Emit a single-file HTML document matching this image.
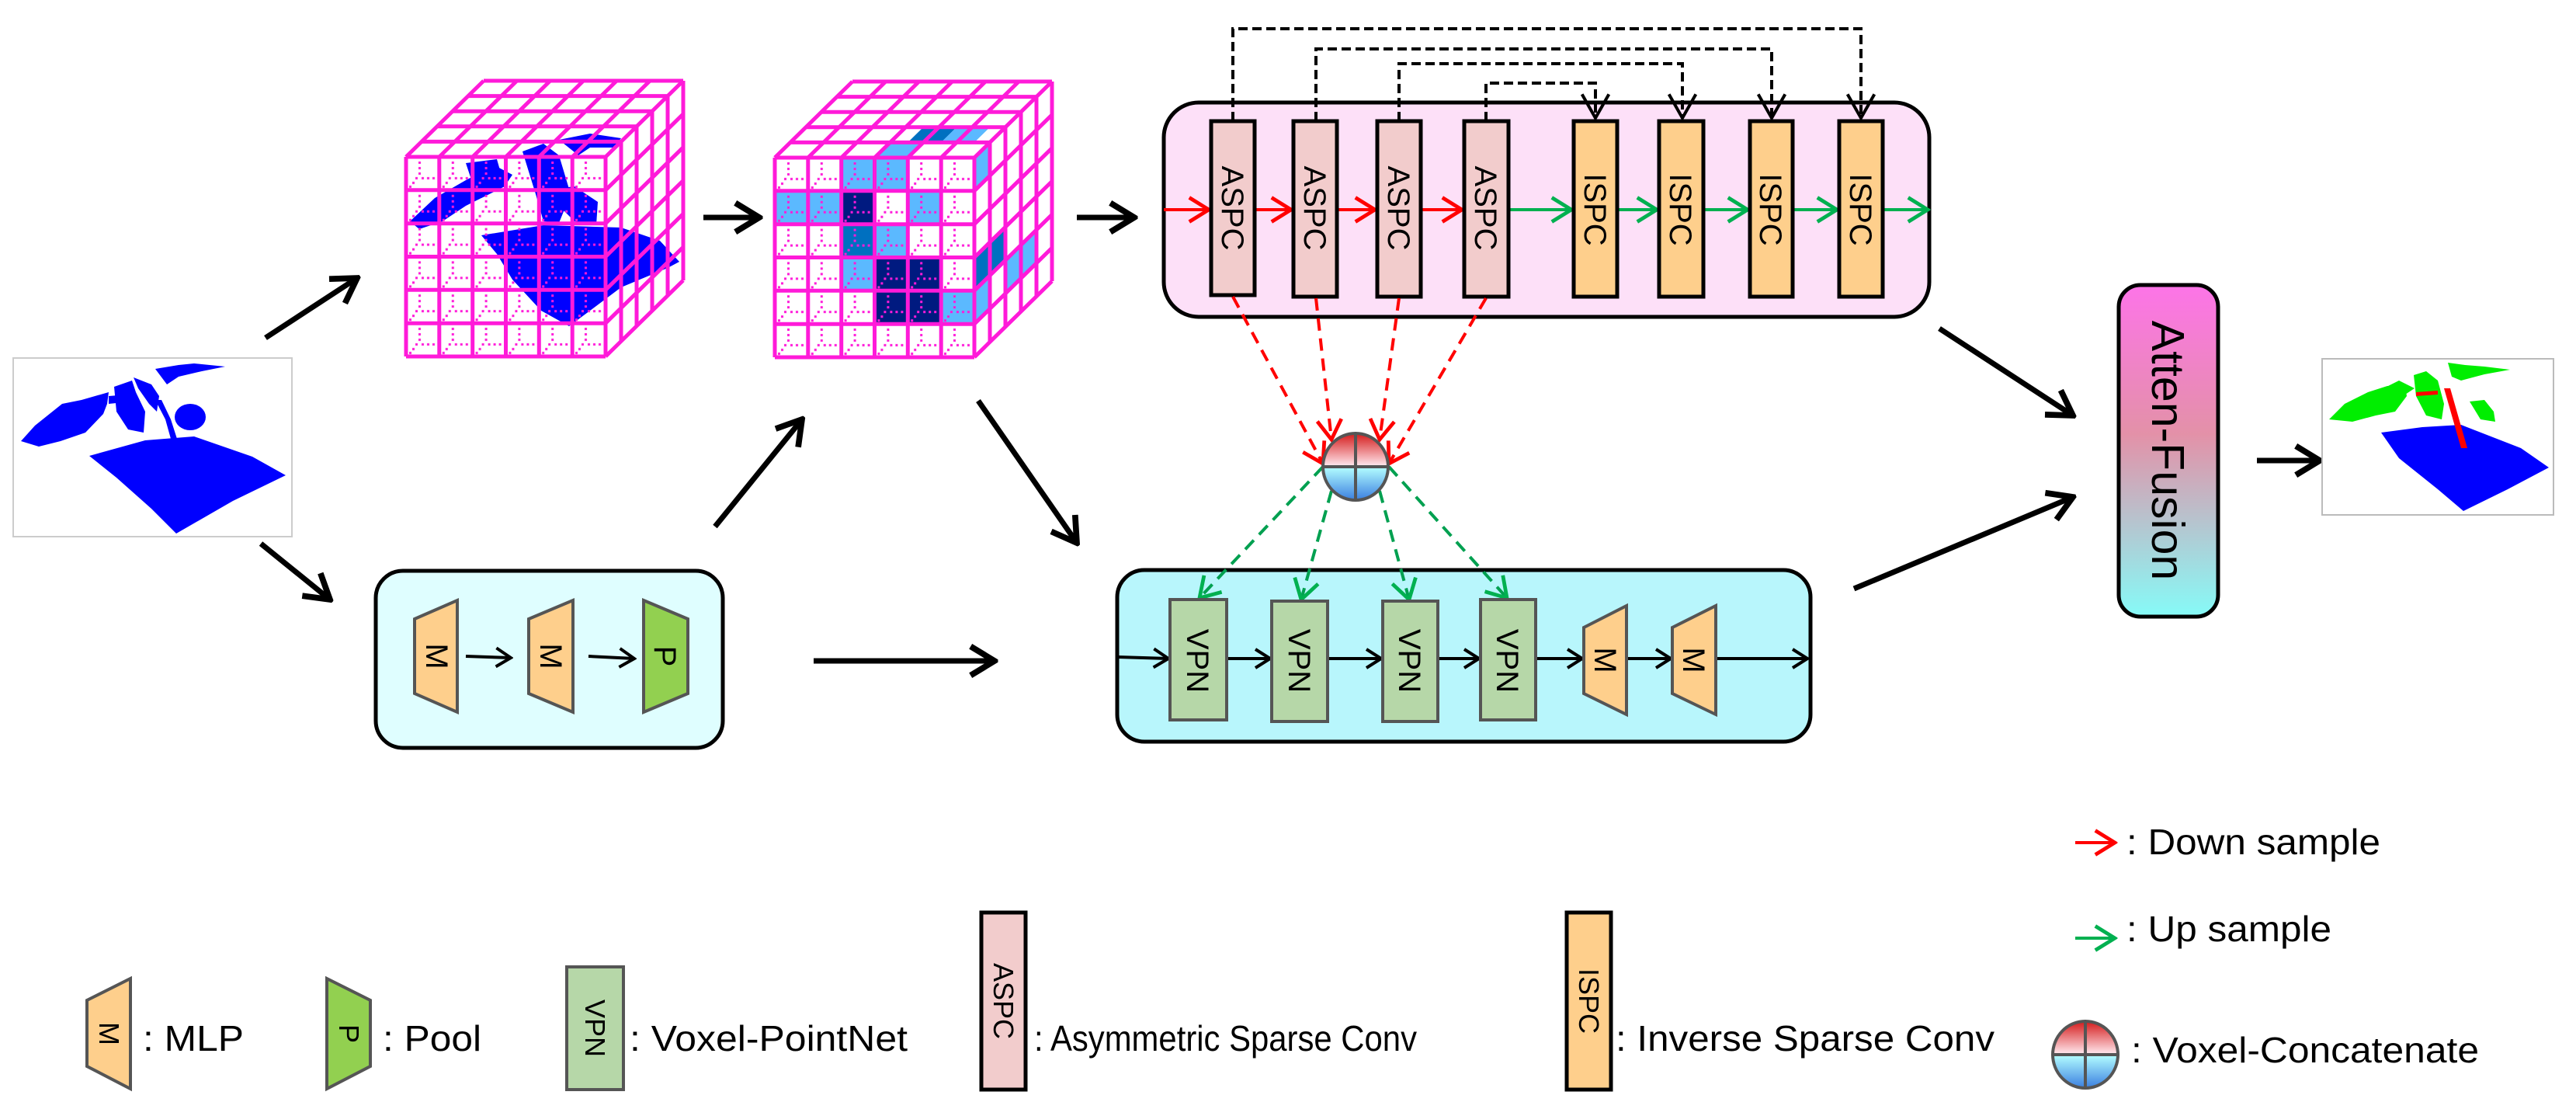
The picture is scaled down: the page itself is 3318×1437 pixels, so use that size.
<!DOCTYPE html>
<html><head><meta charset="utf-8"><style>html,body{margin:0;padding:0;background:#fff}svg{display:block}</style></head><body>
<svg width="3318" height="1437" viewBox="0 0 3318 1437" xmlns="http://www.w3.org/2000/svg" font-family="Liberation Sans, Arial, sans-serif">
<defs>
<marker id="abig" viewBox="0 0 40 40" markerWidth="44" markerHeight="44" refX="36" refY="20" orient="auto" markerUnits="userSpaceOnUse"><path d="M8,3 L36,20 L8,37" fill="none" stroke="#000" stroke-width="7"/></marker>
<marker id="amed" viewBox="0 0 30 30" markerWidth="30" markerHeight="30" refX="27" refY="15" orient="auto" markerUnits="userSpaceOnUse"><path d="M8,3 L27,15 L8,27" fill="none" stroke="#000" stroke-width="4"/></marker>
<marker id="ared" viewBox="0 0 30 30" markerWidth="36" markerHeight="36" refX="27" refY="15" orient="auto" markerUnits="userSpaceOnUse"><path d="M6,2 L27,15 L6,28" fill="none" stroke="#f00" stroke-width="4"/></marker>
<marker id="agrn" viewBox="0 0 30 30" markerWidth="36" markerHeight="36" refX="27" refY="15" orient="auto" markerUnits="userSpaceOnUse"><path d="M6,2 L27,15 L6,28" fill="none" stroke="#00b050" stroke-width="4"/></marker>
<marker id="ablk" viewBox="0 0 30 30" markerWidth="40" markerHeight="40" refX="27" refY="15" orient="auto" markerUnits="userSpaceOnUse"><path d="M4,2 L27,15 L4,28" fill="none" stroke="#000" stroke-width="3"/></marker>
<linearGradient id="sph" x1="0" y1="0" x2="0" y2="1">
<stop offset="0" stop-color="#d41a1a"/><stop offset="0.48" stop-color="#ffe4ea"/><stop offset="0.52" stop-color="#b0faff"/><stop offset="1" stop-color="#3a7fe0"/></linearGradient>
<linearGradient id="att" x1="0" y1="0" x2="0" y2="1">
<stop offset="0" stop-color="#fd74e8"/><stop offset="0.45" stop-color="#e391a8"/><stop offset="1" stop-color="#86fbf8"/></linearGradient>
<pattern id="dots" x="0" y="0" width="42.8" height="42.8" patternUnits="userSpaceOnUse">
<rect x="16" y="6" width="3" height="3" fill="#ff1ad9"/><rect x="16" y="13" width="3" height="3" fill="#ff1ad9"/><rect x="16" y="20" width="3" height="3" fill="#ff1ad9"/><rect x="12" y="26" width="3" height="3" fill="#ff1ad9"/><rect x="20" y="26" width="3" height="3" fill="#ff1ad9"/><rect x="27" y="26" width="3" height="3" fill="#ff1ad9"/><rect x="34" y="26" width="3" height="3" fill="#ff1ad9"/><rect x="8" y="32" width="3" height="3" fill="#ff1ad9"/><rect x="4" y="37" width="3" height="3" fill="#ff1ad9"/>
</pattern>
<g id="cubebg">
<polygon points="0,0 100,-98 357,-98 357,159 257,257 0,257" fill="#fff"/>
</g>
<g id="cubegrid" stroke="#ff1ad9" stroke-width="5" fill="none">
<rect x="0" y="0" width="257" height="257" fill="url(#dots)" stroke="none"/>
<path d="M0,0V257M42.8,0V257M85.7,0V257M128.5,0V257M171.3,0V257M214.2,0V257M257,0V257
M0,0H257M0,42.8H257M0,85.7H257M0,128.5H257M0,171.3H257M0,214.2H257M0,257H257
M20,-19.6H277M40,-39.2H297M60,-58.8H317M80,-78.4H337M100,-98H357
M0,0L100,-98M42.8,0L142.8,-98M85.7,0L185.7,-98M128.5,0L228.5,-98M171.3,0L271.3,-98M214.2,0L314.2,-98M257,0L357,-98
M277,-19.6V237.4M297,-39.2V217.8M317,-58.8V198.2M337,-78.4V178.6M357,-98V159
M257,42.8L357,-55.2M257,85.7L357,-12.3M257,128.5L357,30.5M257,171.3L357,73.3M257,214.2L357,116.2M257,257L357,159"/>
</g>
</defs>

<!-- input point cloud -->
<rect x="17" y="461" width="359" height="230" fill="#fff" stroke="#ccc" stroke-width="2"/>
<g fill="#0000ff">
<polygon points="115,587 187,567 250,562 325,588 368,612 300,645 227,687 195,655 150,615"/>
<polygon points="27,568 45,548 80,520 105,515 140,505 138,520 133,533 110,557 78,568 50,575"/>
<polygon points="147,498 170,490 175,505 187,530 185,557 165,553 150,530"/>
<polygon points="200,475 230,470 250,468 290,472 260,478 230,485 215,495"/>
<polygon points="172,486 195,495 205,510 202,530 192,520 178,500"/>
<ellipse cx="245" cy="537" rx="20" ry="17"/>
<polygon points="208,515 220,540 228,565 220,565 213,540 200,515"/>
<polygon points="140,510 165,508 170,517 140,520"/>
</g>

<!-- cube 1 -->
<g transform="translate(523,202)"><use href="#cubebg"/></g>
<g fill="#0000ff">
<polygon points="528,285 560,255 600,232 637,213 660,225 650,240 620,255 600,265 570,285 540,295"/>
<polygon points="620,303 700,290 800,293 850,310 875,337 860,345 800,370 760,400 733,420 697,400 660,360 640,327"/>
<polygon points="673,195 700,185 720,200 735,250 720,287 700,285 690,250"/>
<polygon points="720,180 760,172 800,178 790,190 760,190 745,200"/>
<polygon points="700,245 740,240 770,260 768,290 740,285"/>
<polygon points="600,210 640,205 650,240 620,255 610,240"/>
</g>
<g transform="translate(523,202)"><use href="#cubegrid"/></g>

<!-- cube 2 -->
<g transform="translate(998,203)">
<use href="#cubebg"/>
<g>
<rect x="85.7" y="0" width="42.8" height="42.8" fill="#5bb9ff"/>
<rect x="128.5" y="0" width="42.8" height="42.8" fill="#5bb9ff"/>
<rect x="0" y="42.8" width="42.8" height="42.8" fill="#5bb9ff"/>
<rect x="42.8" y="42.8" width="42.8" height="42.8" fill="#5bb9ff"/>
<rect x="85.7" y="42.8" width="42.8" height="42.8" fill="#001a80"/>
<rect x="171.3" y="42.8" width="42.8" height="42.8" fill="#5bb9ff"/>
<rect x="85.7" y="85.7" width="42.8" height="42.8" fill="#0070c0"/>
<rect x="128.5" y="85.7" width="42.8" height="42.8" fill="#5bb9ff"/>
<rect x="85.7" y="128.5" width="42.8" height="42.8" fill="#5bb9ff"/>
<rect x="128.5" y="128.5" width="85.6" height="85.7" fill="#001a80"/>
<rect x="214.2" y="171.3" width="42.8" height="42.8" fill="#5bb9ff"/>
<polygon points="257,128.5 277,108.9 277,151.7 257,171.3" fill="#0070c0"/>
<polygon points="277,108.9 297,89.3 297,132.1 277,151.7" fill="#0070c0"/>
<polygon points="257,171.3 277,151.7 277,194.5 257,214.2" fill="#5bb9ff"/>
<polygon points="297,132.1 317,112.5 317,155.3 297,174.9" fill="#5bb9ff"/>
<polygon points="317,112.5 337,92.9 337,135.7 317,155.3" fill="#5bb9ff"/>
<polygon points="257,0 277,-19.6 277,23.2 257,42.8" fill="#5bb9ff"/>
<polygon points="171.3,-19.6 214.2,-19.6 234.2,-39.2 191.3,-39.2" fill="#0070c0"/>
<polygon points="128.5,0 171.3,0 191.3,-19.6 148.5,-19.6" fill="#5bb9ff"/>
<polygon points="214.2,-19.6 257,-19.6 277,-39.2 234.2,-39.2" fill="#5bb9ff"/>
</g>
<use href="#cubegrid"/>
</g>

<!-- pink box -->
<rect x="1499" y="132" width="986" height="276" rx="45" fill="#fde0f8" stroke="#000" stroke-width="5"/>
<g fill="none" stroke="#000" stroke-width="4" stroke-dasharray="12,6">
<path d="M1588,156 V37 H2397 V152" marker-end="url(#ablk)"/>
<path d="M1695,156 V63 H2282 V152" marker-end="url(#ablk)"/>
<path d="M1802,156 V82 H2167 V152" marker-end="url(#ablk)"/>
<path d="M1914,156 V107 H2055 V152" marker-end="url(#ablk)"/>
</g>
<g stroke-width="4" fill="none">
<line x1="1499" y1="270" x2="1557" y2="270" stroke="#f00" marker-end="url(#ared)"/>
<line x1="1616" y1="270" x2="1663" y2="270" stroke="#f00" marker-end="url(#ared)"/>
<line x1="1722" y1="270" x2="1771" y2="270" stroke="#f00" marker-end="url(#ared)"/>
<line x1="1830" y1="270" x2="1883" y2="270" stroke="#f00" marker-end="url(#ared)"/>
<line x1="1943" y1="270" x2="2024" y2="270" stroke="#00b050" marker-end="url(#agrn)"/>
<line x1="2083" y1="270" x2="2134" y2="270" stroke="#00b050" marker-end="url(#agrn)"/>
<line x1="2195" y1="270" x2="2251" y2="270" stroke="#00b050" marker-end="url(#agrn)"/>
<line x1="2309" y1="270" x2="2366" y2="270" stroke="#00b050" marker-end="url(#agrn)"/>
<line x1="2425" y1="270" x2="2483" y2="270" stroke="#00b050" marker-end="url(#agrn)"/>
</g>
<g stroke="#000" stroke-width="5">
<rect x="1560" y="156" width="56" height="224" fill="#f2cccc"/>
<rect x="1666" y="156" width="56" height="226" fill="#f2cccc"/>
<rect x="1774" y="156" width="56" height="226" fill="#f2cccc"/>
<rect x="1886" y="156" width="57" height="226" fill="#f2cccc"/>
<rect x="2027" y="156" width="56" height="226" fill="#fecf8c"/>
<rect x="2137" y="156" width="57" height="226" fill="#fecf8c"/>
<rect x="2254" y="156" width="55" height="226" fill="#fecf8c"/>
<rect x="2369" y="156" width="56" height="226" fill="#fecf8c"/>
</g>
<g font-size="40" fill="#000" text-anchor="middle">
<text transform="translate(1588,268) rotate(90)" dy="14">ASPC</text>
<text transform="translate(1694,268) rotate(90)" dy="14">ASPC</text>
<text transform="translate(1802,268) rotate(90)" dy="14">ASPC</text>
<text transform="translate(1914,268) rotate(90)" dy="14">ASPC</text>
<text transform="translate(2055,270) rotate(90)" dy="14">ISPC</text>
<text transform="translate(2165,270) rotate(90)" dy="14">ISPC</text>
<text transform="translate(2281,270) rotate(90)" dy="14">ISPC</text>
<text transform="translate(2397,270) rotate(90)" dy="14">ISPC</text>
</g>

<g stroke="#f00" stroke-width="4" fill="none" stroke-dasharray="16,10">
<line x1="1588" y1="382" x2="1704" y2="597" marker-end="url(#ared)"/>
<line x1="1695" y1="384" x2="1715" y2="566" marker-end="url(#ared)"/>
<line x1="1802" y1="384" x2="1777" y2="566" marker-end="url(#ared)"/>
<line x1="1914" y1="384" x2="1789" y2="597" marker-end="url(#ared)"/>
</g>

<rect x="1439" y="734" width="893" height="221" rx="35" fill="#b8f6fc" stroke="#000" stroke-width="5"/>
<g stroke="#00a050" stroke-width="4" fill="none" stroke-dasharray="16,10">
<line x1="1704" y1="601" x2="1545" y2="770" marker-end="url(#agrn)"/>
<line x1="1715" y1="632" x2="1676" y2="772" marker-end="url(#agrn)"/>
<line x1="1777" y1="632" x2="1815" y2="772" marker-end="url(#agrn)"/>
<line x1="1789" y1="601" x2="1941" y2="770" marker-end="url(#agrn)"/>
</g>
<g>
<ellipse cx="1746" cy="601" rx="42" ry="43" fill="url(#sph)" stroke="#555" stroke-width="4"/>
<line x1="1704" y1="601" x2="1788" y2="601" stroke="#555" stroke-width="4"/>
<line x1="1746" y1="558" x2="1746" y2="644" stroke="#555" stroke-width="4"/>
</g>
<g stroke="#000" stroke-width="4" fill="none">
<line x1="1440" y1="846" x2="1505" y2="848" marker-end="url(#amed)"/>
<line x1="1580" y1="848" x2="1636" y2="848" marker-end="url(#amed)"/>
<line x1="1710" y1="848" x2="1779" y2="848" marker-end="url(#amed)"/>
<line x1="1852" y1="848" x2="1905" y2="848" marker-end="url(#amed)"/>
<line x1="1978" y1="848" x2="2038" y2="848" marker-end="url(#amed)"/>
<line x1="2095" y1="848" x2="2152" y2="848" marker-end="url(#amed)"/>
<line x1="2210" y1="848" x2="2328" y2="848" marker-end="url(#amed)"/>
</g>
<g stroke="#555" stroke-width="4">
<rect x="1507" y="772" width="73" height="155" fill="#b6d7a8"/>
<rect x="1638" y="774" width="72" height="155" fill="#b6d7a8"/>
<rect x="1781" y="774" width="71" height="155" fill="#b6d7a8"/>
<rect x="1907" y="772" width="71" height="155" fill="#b6d7a8"/>
<polygon points="2040,808 2095,780 2095,920 2040,893" fill="#fecf8c"/>
<polygon points="2154,808 2210,780 2210,920 2154,893" fill="#fecf8c"/>
</g>
<g font-size="40" fill="#000" text-anchor="middle">
<text transform="translate(1543,851) rotate(90)" dy="14">VPN</text>
<text transform="translate(1674,851) rotate(90)" dy="14">VPN</text>
<text transform="translate(1816,851) rotate(90)" dy="14">VPN</text>
<text transform="translate(1942,851) rotate(90)" dy="14">VPN</text>
<text transform="translate(2068,850) rotate(90)" dy="14">M</text>
<text transform="translate(2182,850) rotate(90)" dy="14">M</text>
</g>

<rect x="484" y="735" width="447" height="228" rx="35" fill="#dffeff" stroke="#000" stroke-width="5"/>
<g stroke="#555" stroke-width="4">
<polygon points="534,797 589,773 589,917 534,893" fill="#fecf8c"/>
<polygon points="681,797 738,773 738,917 681,893" fill="#fecf8c"/>
<polygon points="829,773 886,797 886,893 829,917" fill="#92d050"/>
</g>
<g stroke="#000" stroke-width="4" fill="none">
<line x1="600" y1="845" x2="658" y2="847" marker-end="url(#amed)"/>
<line x1="758" y1="845" x2="817" y2="848" marker-end="url(#amed)"/>
</g>
<g font-size="40" fill="#000" text-anchor="middle">
<text transform="translate(563,845) rotate(90)" dy="14">M</text>
<text transform="translate(710,845) rotate(90)" dy="14">M</text>
<text transform="translate(857,845) rotate(90)" dy="14">P</text>
</g>

<g stroke="#000" stroke-width="7" fill="none" marker-end="url(#abig)">
<line x1="342" y1="435" x2="460" y2="358"/>
<line x1="336" y1="700" x2="425" y2="772"/>
<line x1="906" y1="280" x2="978" y2="280"/>
<line x1="1387" y1="280" x2="1461" y2="280"/>
<line x1="921" y1="678" x2="1033" y2="540"/>
<line x1="1260" y1="516" x2="1387" y2="699"/>
<line x1="1048" y1="851" x2="1281" y2="851"/>
<line x1="2498" y1="423" x2="2670" y2="535"/>
<line x1="2388" y1="758" x2="2670" y2="640"/>
<line x1="2907" y1="593" x2="2988" y2="593"/>
</g>

<rect x="2729" y="367" width="128" height="427" rx="28" fill="url(#att)" stroke="#000" stroke-width="5"/>
<text transform="translate(2793,580) rotate(90)" font-size="59" text-anchor="middle" dy="21" fill="#000">Atten-Fusion</text>

<rect x="2991" y="462" width="298" height="201" fill="#fff" stroke="#bbb" stroke-width="2"/>
<g>
<polygon points="3067,557 3120,550 3170,547 3247,577 3283,602 3230,630 3173,658 3140,630 3090,590" fill="#0000ff"/>
<g fill="#00ee00">
<polygon points="3000,540 3020,520 3050,505 3075,497 3098,497 3100,510 3085,530 3060,535 3030,543"/>
<polygon points="3109,483 3125,478 3140,490 3148,520 3145,540 3125,535 3112,510"/>
<polygon points="3153,467 3175,470 3200,472 3233,476 3200,482 3170,490 3158,485"/>
<polygon points="3181,517 3200,515 3212,530 3214,543 3195,540"/>
<polygon points="3060,505 3090,490 3110,500 3095,510"/>
</g>
<polygon points="3148,500 3156,500 3178,577 3170,577" fill="#f00"/>
<polygon points="3140,503 3112,505 3112,510 3140,508" fill="#f00"/>
</g>

<g stroke="#555" stroke-width="4">
<polygon points="112,1288 168,1260 168,1402 112,1373" fill="#fecf8c"/>
<polygon points="421,1260 477,1288 477,1373 421,1402" fill="#92d050"/>
<rect x="730" y="1245" width="73" height="158" fill="#b6d7a8"/>
</g>
<rect x="1264" y="1175" width="57" height="228" fill="#f2cccc" stroke="#000" stroke-width="5"/>
<rect x="2018" y="1175" width="57" height="228" fill="#fecf8c" stroke="#000" stroke-width="5"/>
<g font-size="36" fill="#000" text-anchor="middle">
<text transform="translate(140,1331) rotate(90)" dy="12">M</text>
<text transform="translate(449,1331) rotate(90)" dy="12">P</text>
<text transform="translate(766,1324) rotate(90)" dy="12">VPN</text>
<text transform="translate(1292,1289) rotate(90)" dy="12">ASPC</text>
<text transform="translate(2046,1289) rotate(90)" dy="12">ISPC</text>
</g>
<g font-size="46" fill="#000">
<text x="184" y="1353" textLength="130" lengthAdjust="spacingAndGlyphs">: MLP</text>
<text x="493" y="1353" textLength="127" lengthAdjust="spacingAndGlyphs">: Pool</text>
<text x="811" y="1353" textLength="358" lengthAdjust="spacingAndGlyphs">: Voxel-PointNet</text>
<text x="1332" y="1353" textLength="493" lengthAdjust="spacingAndGlyphs">: Asymmetric Sparse Conv</text>
<text x="2081" y="1353" textLength="488" lengthAdjust="spacingAndGlyphs">: Inverse Sparse Conv</text>
<text x="2739" y="1100" textLength="327" lengthAdjust="spacingAndGlyphs">: Down sample</text>
<text x="2739" y="1212" textLength="264" lengthAdjust="spacingAndGlyphs">: Up sample</text>
<text x="2745" y="1368" textLength="448" lengthAdjust="spacingAndGlyphs">: Voxel-Concatenate</text>
</g>
<line x1="2673" y1="1085" x2="2724" y2="1085" stroke="#f00" stroke-width="4" marker-end="url(#ared)"/>
<line x1="2673" y1="1208" x2="2724" y2="1208" stroke="#00b050" stroke-width="4" marker-end="url(#agrn)"/>
<ellipse cx="2686" cy="1358" rx="42" ry="43" fill="url(#sph)" stroke="#555" stroke-width="4"/>
<line x1="2644" y1="1358" x2="2728" y2="1358" stroke="#555" stroke-width="4"/>
<line x1="2686" y1="1315" x2="2686" y2="1401" stroke="#555" stroke-width="4"/>
</svg>
</body></html>
